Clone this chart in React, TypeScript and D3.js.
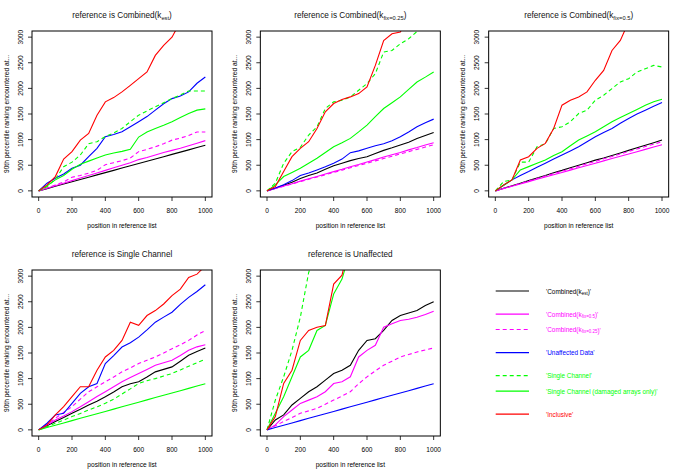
import React from 'react';
import * as d3 from 'd3';

// x positions (position in reference list) at which values were read
const positions = [0, 50, 100, 150, 200, 250, 300, 350, 400, 450, 500, 550, 600, 650, 700, 750, 800, 850, 900, 950, 1000];
const xTicks = [0, 200, 400, 600, 800, 1000];
const yTicks = [0, 500, 1000, 1500, 2000, 2500, 3000];

type V = number | null;

// panel 1: reference is Combined(k_est)
const p1CombEst: V[] = [0, 44, 89, 133, 178, 222, 267, 312, 356, 400, 445, 490, 534, 578, 622, 667, 712, 756, 800, 845, 890];
const p1CombFix05: V[] = [0, 50, 100, 150, 200, 250, 300, 350, 400, 450, 500, 550, 610, 650, 700, 750, 790, 830, 880, 930, 980];
const p1CombFix025: V[] = [0, 55, 115, 175, 265, 300, 345, 400, 510, 550, 590, 640, 765, 810, 860, 920, 990, 1030, 1080, 1150, 1150];
const p1Unaffected: V[] = [0, 150, 246, 330, 440, 500, 667, 830, 1056, 1100, 1153, 1250, 1348, 1450, 1575, 1700, 1800, 1850, 1931, 2100, 2222];
const p1Single: V[] = [0, 80, 230, 470, 560, 700, 920, 960, 1060, 1130, 1218, 1350, 1477, 1560, 1640, 1720, 1800, 1870, 1950, 1950, 1950];
const p1SingleDamaged: V[] = [0, 100, 214, 300, 421, 520, 580, 640, 700, 740, 770, 810, 1050, 1150, 1218, 1280, 1348, 1430, 1510, 1575, 1600];
const p1Inclusive: V[] = [0, 117, 279, 620, 765, 990, 1120, 1477, 1737, 1820, 1931, 2060, 2190, 2320, 2644, 2838, 3000, 3300, null, null, null];

// panel 2: reference is Combined(k_fix=0.25)
const p2CombEst: V[] = [0, 50, 110, 170, 240, 300, 350, 420, 492, 540, 590, 630, 667, 730, 790, 840, 894, 950, 1020, 1080, 1140];
const p2CombFix05: V[] = [0, 48, 95, 140, 190, 235, 280, 330, 375, 420, 470, 515, 565, 610, 660, 705, 750, 800, 845, 895, 940];
const p2CombFix025: V[] = [0, 45, 90, 135, 180, 225, 270, 315, 360, 405, 450, 495, 540, 585, 630, 675, 720, 765, 810, 855, 900];
const p2Unaffected: V[] = [0, 55, 120, 200, 298, 350, 408, 470, 538, 620, 745, 780, 830, 880, 920, 980, 1056, 1150, 1250, 1330, 1400];
const p2Single: V[] = [0, 150, 538, 765, 850, 1089, 1250, 1607, 1737, 1769, 1834, 1963, 2093, 2287, 2709, 2741, 2870, 2968, 3110, 3400, null];
const p2SingleDamaged: V[] = [0, 117, 279, 360, 440, 540, 635, 750, 862, 940, 1024, 1150, 1283, 1450, 1607, 1720, 1834, 1980, 2125, 2220, 2320];
const p2Inclusive: V[] = [0, 84, 376, 667, 830, 959, 1218, 1542, 1704, 1782, 1834, 1899, 2028, 2449, 2935, 3065, 3100, 3400, null, null, null];

// panel 3: reference is Combined(k_fix=0.5)
const p3CombEst: V[] = [0, 50, 100, 150, 200, 250, 300, 355, 400, 450, 500, 550, 600, 640, 690, 740, 790, 840, 890, 940, 991];
const p3CombFix05: V[] = [0, 45, 90, 135, 180, 225, 270, 315, 360, 405, 450, 495, 540, 585, 630, 675, 720, 765, 810, 855, 900];
const p3CombFix025: V[] = [0, 48, 95, 145, 190, 240, 290, 335, 385, 430, 480, 530, 575, 625, 670, 720, 770, 815, 865, 910, 960];
const p3Unaffected: V[] = [0, 110, 214, 300, 376, 460, 538, 620, 700, 780, 862, 960, 1056, 1140, 1218, 1320, 1413, 1500, 1575, 1650, 1724];
const p3Single: V[] = [0, 180, 214, 560, 560, 860, 920, 1218, 1250, 1348, 1510, 1575, 1769, 1866, 1996, 2125, 2190, 2320, 2384, 2449, 2417];
const p3SingleDamaged: V[] = [0, 110, 214, 408, 473, 538, 603, 690, 765, 880, 991, 1070, 1153, 1250, 1348, 1430, 1510, 1590, 1672, 1740, 1788];
const p3Inclusive: V[] = [0, 117, 214, 603, 667, 830, 927, 1218, 1672, 1769, 1834, 1931, 2158, 2352, 2741, 2935, 3300, null, null, null, null];

// panel 4: reference is Single Channel
const p4CombEst: V[] = [0, 80, 162, 240, 323, 400, 485, 560, 647, 740, 841, 900, 938, 1030, 1132, 1180, 1229, 1340, 1455, 1530, 1597];
const p4CombFix05: V[] = [0, 95, 194, 270, 356, 450, 550, 650, 744, 840, 938, 1020, 1100, 1180, 1261, 1310, 1358, 1450, 1552, 1620, 1662];
const p4CombFix025: V[] = [0, 110, 226, 340, 453, 600, 744, 840, 938, 1030, 1132, 1210, 1293, 1360, 1423, 1500, 1584, 1660, 1746, 1850, 1940];
const p4Unaffected: V[] = [0, 129, 291, 323, 517, 711, 841, 905, 1293, 1450, 1617, 1700, 1810, 1950, 2101, 2200, 2295, 2450, 2586, 2700, 2832];
const p4Single: V[] = [0, 60, 129, 190, 259, 320, 388, 450, 517, 600, 700, 800, 905, 960, 1000, 1050, 1100, 1170, 1240, 1310, 1377];
const p4SingleDamaged: V[] = [0, 45, 90, 135, 180, 225, 270, 315, 360, 405, 450, 495, 540, 585, 630, 675, 720, 765, 810, 855, 900];
const p4Inclusive: V[] = [0, 97, 291, 453, 647, 841, 841, 1164, 1423, 1552, 1746, 2100, 2040, 2231, 2328, 2457, 2619, 2748, 2974, 3039, 3200];

// panel 5: reference is Unaffected
const p5CombEst: V[] = [0, 194, 291, 485, 614, 744, 841, 970, 1099, 1164, 1261, 1552, 1746, 1778, 1940, 2134, 2231, 2280, 2328, 2425, 2502];
const p5CombFix05: V[] = [0, 97, 259, 388, 517, 580, 647, 744, 905, 938, 1035, 1423, 1552, 1650, 2004, 2070, 2134, 2160, 2198, 2250, 2315];
const p5CombFix025: V[] = [0, 80, 162, 240, 323, 370, 420, 500, 582, 660, 744, 900, 1035, 1150, 1261, 1340, 1423, 1470, 1520, 1560, 1597];
const p5Unaffected: V[] = [0, 45, 90, 135, 180, 225, 270, 315, 360, 405, 450, 495, 540, 585, 630, 675, 720, 765, 810, 855, 900];
const p5Single: V[] = [0, 582, 1035, 1552, 2198, 3071, 3500, null, null, null, null, null, null, null, null, null, null, null, null, null, null];
const p5SingleDamaged: V[] = [0, 323, 647, 1035, 1423, 1552, 1940, 2037, 2651, 2942, 3500, null, null, null, null, null, null, null, null, null, null];
const p5Inclusive: V[] = [0, 259, 905, 1164, 1746, 1940, 2004, 2037, 2845, 3020, 3700, null, null, null, null, null, null, null, null, null, null];

type Key = 'combEst' | 'combFix05' | 'combFix025' | 'unaffected' | 'single' | 'singleDamaged' | 'inclusive';

const seriesOrder: Key[] = ['combEst', 'combFix05', 'combFix025', 'unaffected', 'single', 'singleDamaged', 'inclusive'];

const seriesStyle: Record<Key, { color: string; dash?: string }> = {
  combEst: { color: '#000000' },
  combFix05: { color: '#ff00ff' },
  combFix025: { color: '#ff00ff', dash: '4,3' },
  unaffected: { color: '#0000ff' },
  single: { color: '#00ff00', dash: '4,3' },
  singleDamaged: { color: '#00ff00' },
  inclusive: { color: '#ff0000' },
};

// label = [before subscript, subscript, after subscript]
const legendLabels: Record<Key, [string, string, string]> = {
  combEst: ["'Combined(k", 'est', ")'"],
  combFix05: ["'Combined(k", 'fix=0.5', ")'"],
  combFix025: ["'Combined(k", 'fix=0.25', ")'"],
  unaffected: ["'Unaffected Data'", '', ''],
  single: ["'Single Channel'", '', ''],
  singleDamaged: ["'Single Channel (damaged arrays only)'", '', ''],
  inclusive: ["'Inclusive'", '', ''],
};

interface Panel {
  title: [string, string, string];
  data: Record<Key, V[]>;
}

const panels: Panel[] = [
  {
    title: ['reference is Combined(k', 'est', ')'],
    data: { combEst: p1CombEst, combFix05: p1CombFix05, combFix025: p1CombFix025, unaffected: p1Unaffected, single: p1Single, singleDamaged: p1SingleDamaged, inclusive: p1Inclusive },
  },
  {
    title: ['reference is Combined(k', 'fix=0.25', ')'],
    data: { combEst: p2CombEst, combFix05: p2CombFix05, combFix025: p2CombFix025, unaffected: p2Unaffected, single: p2Single, singleDamaged: p2SingleDamaged, inclusive: p2Inclusive },
  },
  {
    title: ['reference is Combined(k', 'fix=0.5', ')'],
    data: { combEst: p3CombEst, combFix05: p3CombFix05, combFix025: p3CombFix025, unaffected: p3Unaffected, single: p3Single, singleDamaged: p3SingleDamaged, inclusive: p3Inclusive },
  },
  {
    title: ['reference is Single Channel', '', ''],
    data: { combEst: p4CombEst, combFix05: p4CombFix05, combFix025: p4CombFix025, unaffected: p4Unaffected, single: p4Single, singleDamaged: p4SingleDamaged, inclusive: p4Inclusive },
  },
  {
    title: ['reference is Unaffected', '', ''],
    data: { combEst: p5CombEst, combFix05: p5CombFix05, combFix025: p5CombFix025, unaffected: p5Unaffected, single: p5Single, singleDamaged: p5SingleDamaged, inclusive: p5Inclusive },
  },
];

const W = 685;
const H = 476;
const cellW = W / 3;
const rowTops = [0, 239];
const boxLeft = 32;
const boxTop = 31;
const boxW = 180;
const boxH = 166;
const font = '"Liberation Sans", Arial, Helvetica, sans-serif';

const Sub: React.FC<{ parts: [string, string, string]; size: number }> = ({ parts, size }) => (
  <>
    {parts[0]}
    {parts[1] && (
      <tspan fontSize={size * 0.7} dy={size * 0.28}>
        {parts[1]}
      </tspan>
    )}
    {parts[2] && <tspan dy={-size * 0.28}>{parts[2]}</tspan>}
  </>
);

const PanelPlot: React.FC<{ panel: Panel; idx: number }> = ({ panel, idx }) => {
  const ox = (idx % 3) * cellW;
  const oy = rowTops[Math.floor(idx / 3)];
  const left = ox + boxLeft;
  const top = oy + boxTop;

  // R style axes: 4% expansion of the data range
  const x = d3.scaleLinear().domain([-40, 1040]).range([left, left + boxW]);
  const y = d3.scaleLinear().domain([-120, 3120]).range([top + boxH, top]);

  const line = d3
    .line<V>()
    .defined(v => v != null)
    .x((_, i) => x(positions[i]))
    .y(v => y(v as number));

  const clipId = `clip-${idx}`;

  return (
    <g>
      <defs>
        <clipPath id={clipId}>
          <rect x={left} y={top} width={boxW} height={boxH} />
        </clipPath>
      </defs>
      <text x={left + boxW / 2} y={oy + 18} textAnchor="middle" fontSize={8.2} fontFamily={font} fill="#111">
        <Sub parts={panel.title} size={8.2} />
      </text>
      <g clipPath={`url(#${clipId})`}>
        {seriesOrder.map(k => (
          <path
            key={k}
            d={line(panel.data[k]) ?? ''}
            fill="none"
            stroke={seriesStyle[k].color}
            strokeWidth={1.1}
            strokeDasharray={seriesStyle[k].dash}
          />
        ))}
      </g>
      <rect x={left} y={top} width={boxW} height={boxH} fill="none" stroke="#000" strokeWidth={1} />
      {xTicks.map(t => (
        <g key={`x${t}`}>
          <line x1={x(t)} x2={x(t)} y1={top + boxH} y2={top + boxH + 4} stroke="#000" strokeWidth={0.8} />
          <text x={x(t)} y={top + boxH + 13} textAnchor="middle" dominantBaseline="central" fontSize={6.6} fontFamily={font} fill="#000">
            {t}
          </text>
        </g>
      ))}
      {yTicks.map(t => (
        <g key={`y${t}`}>
          <line x1={left - 4} x2={left} y1={y(t)} y2={y(t)} stroke="#000" strokeWidth={0.8} />
          <text
            transform={`translate(${left - 11.7},${y(t)}) rotate(-90)`}
            textAnchor="middle"
            dominantBaseline="central"
            fontSize={6.6}
            fontFamily={font}
            fill="#000"
          >
            {t}
          </text>
        </g>
      ))}
      <text x={left + boxW / 2} y={top + boxH + 28.7} textAnchor="middle" dominantBaseline="central" fontSize={6.6} fontFamily={font} fill="#000">
        position in reference list
      </text>
      <text
        transform={`translate(${ox + 6},${top + boxH / 2}) rotate(-90)`}
        textAnchor="middle"
        dominantBaseline="central"
        fontSize={6.6}
        fontFamily={font}
        fill="#000"
      >
        90th percentile ranking encountered at...
      </text>
    </g>
  );
};

// legend rows; gaps of 1.5 rows between groups
const legendGroups: Key[][] = [['combEst'], ['combFix05', 'combFix025'], ['unaffected'], ['single', 'singleDamaged'], ['inclusive']];

const Legend: React.FC = () => {
  const rowH = 15.4;
  const rows: { key: Key; y: number }[] = [];
  let cy = 291;
  legendGroups.forEach((grp, gi) => {
    if (gi > 0) cy += rowH * 1.5;
    grp.forEach((k, ki) => {
      if (ki > 0) cy += rowH;
      rows.push({ key: k, y: cy });
    });
  });
  return (
    <g>
      {rows.map(r => (
        <g key={r.key}>
          <line
            x1={495.7}
            x2={529}
            y1={r.y}
            y2={r.y}
            stroke={seriesStyle[r.key].color}
            strokeWidth={1.2}
            strokeDasharray={seriesStyle[r.key].dash}
          />
          <text x={546} y={r.y} dominantBaseline="central" fontSize={6.4} fontFamily={font} fill={seriesStyle[r.key].color}>
            <Sub parts={legendLabels[r.key]} size={6.4} />
          </text>
        </g>
      ))}
    </g>
  );
};

const App: React.FC = () => (
  <svg width={W} height={H} style={{ position: 'absolute', left: 0, top: 0, background: '#fff' }}>
    <rect width={W} height={H} fill="#fff" />
    {panels.map((p, i) => (
      <PanelPlot key={i} panel={p} idx={i} />
    ))}
    <Legend />
  </svg>
);

export default App;
